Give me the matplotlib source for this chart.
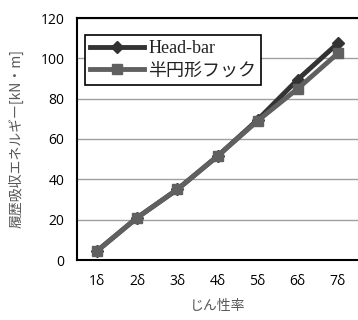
import numpy as np
import matplotlib
matplotlib.use('Agg')
import matplotlib.pyplot as plt
from matplotlib.font_manager import FontProperties

# data
categories = ['1δ', '2δ', '3δ', '4δ', '5δ', '6δ', '7δ']
head_bar = [4.5, 21, 35, 51.5, 69.5, 89.5, 107.5]
hook = [4.5, 21, 35, 51.5, 69, 85, 102.5]
yticks = [0, 20, 40, 60, 80, 100, 120]

plt.rcParams['font.family'] = ['Open Sans', 'Noto Sans CJK JP', 'DejaVu Sans']

fig = plt.figure(figsize=(3.58, 3.2), dpi=100)
ax = fig.add_axes([77 / 358, 60 / 320, 281 / 358, 242 / 320])

x = np.arange(len(categories))
ax.plot(x, head_bar, color='#333333', lw=3.5, marker='D', ms=6.5, label='Head-bar', zorder=3)
ax.plot(x, hook, color='#606060', lw=3.5, marker='s', ms=7.5, label='半円形フック', zorder=3)

ax.set_xlim(-0.5, len(categories) - 0.5)
ax.set_ylim(0, 120)
ax.set_xticks(x)
ax.set_xticklabels(categories, fontsize=10)
ax.set_yticks(yticks)
ax.set_yticklabels([str(v) for v in yticks], fontsize=10)
ax.tick_params(length=0, pad=10)
ax.tick_params(axis='y', pad=9)
ax.grid(axis='y', color='#a0a0a0', lw=1)
ax.set_axisbelow(True)

for s in ['left', 'bottom', 'top']:
    ax.spines[s].set_color('black')
    ax.spines[s].set_linewidth(1.5)
ax.spines['right'].set_visible(False)

ax.set_xlabel('じん性率', fontsize=10, color='#595959',
              family=['Noto Sans CJK JP', 'DejaVu Sans'], labelpad=7)
ax.set_ylabel('履歴吸収エネルギー[kN・m]', fontsize=10, color='#595959',
              family=['Noto Sans CJK JP', 'DejaVu Sans'], labelpad=12)

legend_font = FontProperties(family=['Liberation Serif', 'Noto Sans CJK JP'],
                             size=13, weight='normal')
leg = ax.legend(loc='upper left', bbox_to_anchor=(0.028, 0.93), fancybox=False,
                edgecolor='black', framealpha=1, handlelength=3.0,
                borderpad=0.3, labelspacing=0.3, handletextpad=0.2,
                borderaxespad=0, prop=legend_font)
leg.get_frame().set_linewidth(1.2)
for t in leg.get_texts():
    t.set_color('#222222')

fig.savefig('out.png', dpi=100)
